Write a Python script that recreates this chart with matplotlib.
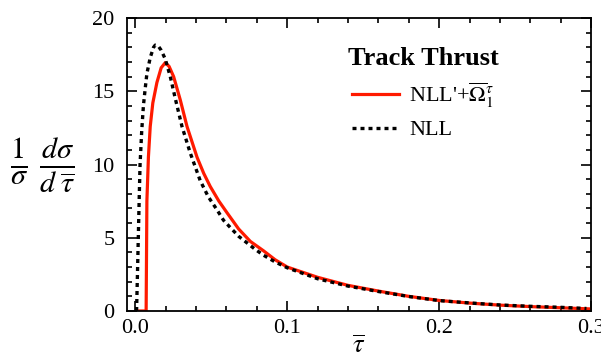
import numpy as np
import matplotlib
matplotlib.use("Agg")
import matplotlib.pyplot as plt
from matplotlib.ticker import MultipleLocator

plt.rcParams['font.family'] = ['Liberation Serif', 'DejaVu Serif']
plt.rcParams['mathtext.fontset'] = 'stix'

# ---- data ----
tau_nll = [0.0008, 0.0015, 0.0025, 0.0031, 0.0042, 0.0053, 0.0065, 0.0076, 0.0098,
           0.0120, 0.0131, 0.0150, 0.0170, 0.0197, 0.0230, 0.0263, 0.0307, 0.0361,
           0.0427, 0.0480, 0.0538, 0.0580, 0.0625, 0.0680, 0.0735, 0.0790, 0.0845,
           0.0920, 0.100, 0.120, 0.140, 0.160, 0.180, 0.200, 0.220, 0.240, 0.260,
           0.280, 0.297]
y_nll = [0.0, 3.0, 7.5, 10.0, 12.3, 14.0, 15.2, 16.2, 17.3,
         18.0, 18.15, 18.1, 17.8, 17.2, 16.0, 14.5, 12.6, 10.8,
         8.9, 7.8, 6.9, 6.2, 5.7, 5.1, 4.65, 4.2, 3.8,
         3.35, 2.95, 2.2, 1.7, 1.33, 0.99, 0.71, 0.55, 0.41, 0.32,
         0.25, 0.17]

tau_nllp = [0.0025, 0.0071, 0.0073, 0.0076, 0.0086, 0.0098, 0.0115, 0.0142, 0.0170,
            0.0197, 0.0222, 0.0252, 0.0296, 0.0340, 0.0406, 0.0450, 0.0493, 0.0550,
            0.0604, 0.0680, 0.0757, 0.0845, 0.0920, 0.100, 0.120, 0.140, 0.160,
            0.180, 0.200, 0.220, 0.240, 0.260, 0.280, 0.300]
y_nllp = [0.0, 0.0, 3.0, 7.5, 10.5, 12.6, 14.2, 15.6, 16.6,
          16.95, 16.7, 16.0, 14.4, 12.6, 10.5, 9.4, 8.5, 7.5,
          6.7, 5.6, 4.75, 4.1, 3.5, 3.0, 2.3, 1.75, 1.36,
          1.0, 0.72, 0.54, 0.40, 0.30, 0.22, 0.14]

legend_title = "Track Thrust"
label_nllp = r"NLL'+$\overline{\Omega}_1^\tau$"
label_nll = "NLL"

fig = plt.figure(figsize=(6.01, 3.58), dpi=100)
ax = fig.add_axes([0.2113, 0.1313, 0.7721, 0.8184])

ax.plot(tau_nllp, y_nllp, color='#ff1a00', lw=2.3, label=label_nllp, zorder=2)
ax.plot(tau_nll, y_nll, color='black', lw=2.4, ls=(0, (1.2, 1.2)), label=label_nll, zorder=3)

ax.set_xlim(-0.0055, 0.3)
ax.set_ylim(0, 20)
ax.xaxis.set_major_locator(MultipleLocator(0.1))
ax.xaxis.set_minor_locator(MultipleLocator(0.02))
ax.yaxis.set_major_locator(MultipleLocator(5))
ax.yaxis.set_minor_locator(MultipleLocator(1))
ax.set_xticks([0.0, 0.1, 0.2, 0.3])
ax.set_xticklabels(['0.0', '0.1', '0.2', '0.3'])
ax.tick_params(which='both', direction='in', top=True, right=True, width=1.2)
ax.tick_params(which='major', length=7, labelsize=16)
ax.tick_params(which='minor', length=3.5)
ax.tick_params(axis='x', pad=6)
ax.tick_params(axis='y', pad=9)
for s in ax.spines.values():
    s.set_linewidth(1.3)

ax.set_xlabel(r"$\overline{\tau}$", fontsize=19, labelpad=-2)
fig.text(0.07, 0.536, r"$\frac{\mathit{1}}{\sigma}\;\frac{d\sigma}{d\;\overline{\tau}}$",
         fontsize=31, ha='center', va='center')

leg = ax.legend(loc='upper left', bbox_to_anchor=(0.476, 0.90), frameon=False,
                fontsize=16, title=legend_title, handlelength=2.1,
                handletextpad=0.45, labelspacing=0.45, borderpad=0, borderaxespad=0)
leg.get_title().set_fontweight('bold')
leg.get_title().set_fontsize(19)

fig.savefig('out.png', dpi=100)
